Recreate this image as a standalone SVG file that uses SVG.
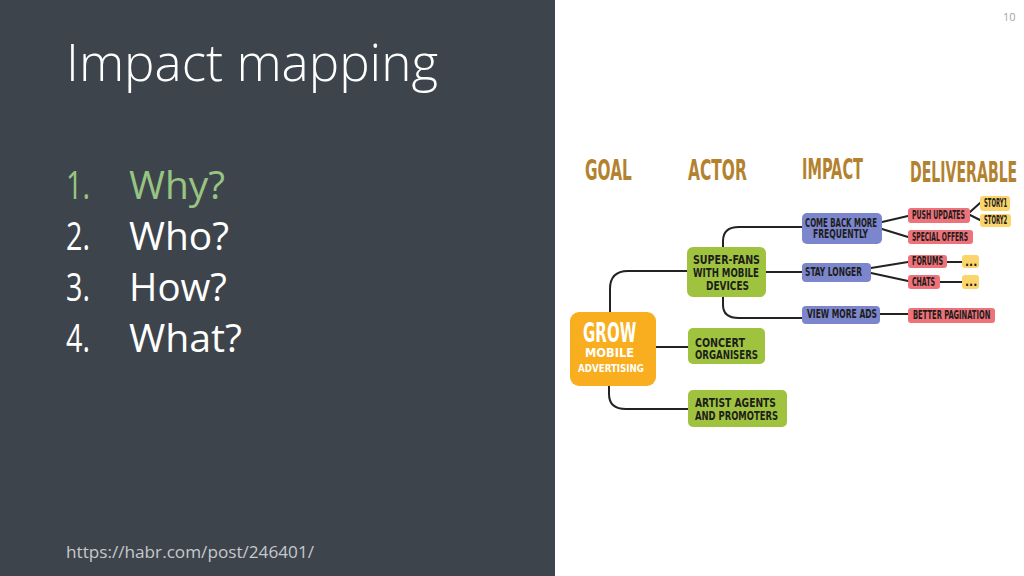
<svg xmlns="http://www.w3.org/2000/svg" width="1024" height="576" viewBox="0 0 1024 576">
<style>
.title{font-family:"Open Sans","Liberation Sans",sans-serif;font-weight:300;fill:#ffffff}
.li{font-family:"Open Sans","Liberation Sans",sans-serif;font-size:38px;fill:#ffffff}
.hd{font-family:"DejaVu Sans Condensed","Liberation Sans",sans-serif;font-weight:bold;font-size:29px;fill:#b3822f}
.lb{font-family:"DejaVu Sans Condensed","Liberation Sans",sans-serif;font-weight:bold;font-size:12px;fill:#1d1d1b}
.lbw{font-family:"DejaVu Sans Condensed","Liberation Sans",sans-serif;font-weight:bold;fill:#ffffff}
.goal{fill:#f8ae1e}
.actor{fill:#9fc33f}
.impact{fill:#7c86cc}
.deliv{fill:#ee727a}
.story{fill:#fbd46c}
.conn{fill:none;stroke:#222222;stroke-width:2;stroke-linecap:round;stroke-linejoin:round}
</style>
<rect x="0" y="0" width="1024" height="576" fill="#ffffff"/>
<rect x="0" y="0" width="555" height="576" fill="#3e444c"/>
<text class="title" x="66" y="81" font-size="52" textLength="372" lengthAdjust="spacingAndGlyphs">Impact mapping</text>
<g id="list">
<text class="li" x="66" y="199" style="fill:#98c482" textLength="24" lengthAdjust="spacingAndGlyphs">1.</text>
<text class="li" x="129" y="199" style="fill:#98c482" textLength="96" lengthAdjust="spacingAndGlyphs">Why?</text>
<text class="li" x="66" y="250" textLength="24" lengthAdjust="spacingAndGlyphs">2.</text>
<text class="li" x="129" y="250" textLength="100" lengthAdjust="spacingAndGlyphs">Who?</text>
<text class="li" x="66" y="301" textLength="24" lengthAdjust="spacingAndGlyphs">3.</text>
<text class="li" x="129" y="301" textLength="98" lengthAdjust="spacingAndGlyphs">How?</text>
<text class="li" x="66" y="352" textLength="24" lengthAdjust="spacingAndGlyphs">4.</text>
<text class="li" x="129" y="352" textLength="113" lengthAdjust="spacingAndGlyphs">What?</text>
</g>
<text x="66" y="558" font-family="Open Sans, Liberation Sans, sans-serif" font-size="17" fill="#c6c9cd" textLength="248" lengthAdjust="spacingAndGlyphs">https://habr.com/post/246401/</text>
<text x="1003" y="21" font-family="Open Sans, Liberation Sans, sans-serif" font-size="11" fill="#a5a5a5">10</text>

<g id="headers">
<text class="hd" transform="translate(585,180) scale(0.55,1)" x="0" y="0" textLength="85" lengthAdjust="spacingAndGlyphs">GOAL</text>
<text class="hd" transform="translate(688,180) scale(0.55,1)" x="0" y="0" textLength="107" lengthAdjust="spacingAndGlyphs">ACTOR</text>
<text class="hd" transform="translate(802,179) scale(0.55,1)" x="0" y="0" textLength="111" lengthAdjust="spacingAndGlyphs">IMPACT</text>
<text class="hd" transform="translate(910,182) scale(0.55,1)" x="0" y="0" textLength="195" lengthAdjust="spacingAndGlyphs">DELIVERABLE</text>
</g>

<g id="connectors">
<path class="conn" d="M610,312 V289 Q610,271 628,271 H687"/>
<path class="conn" d="M656,347 H688"/>
<path class="conn" d="M609,386 V394 Q609,409 626,409 H688"/>
<path class="conn" d="M723,247 V241 Q723,227 739,227 H802"/>
<path class="conn" d="M766,272 H802"/>
<path class="conn" d="M723,297 V305 Q723,318 739,318 H802"/>
<path class="conn" d="M882,222 L908,216"/>
<path class="conn" d="M882,229 L908,237"/>
<path class="conn" d="M871,268 L908,262"/>
<path class="conn" d="M871,273 L908,281"/>
<path class="conn" d="M947,262 H962"/>
<path class="conn" d="M940,282 H962"/>
<path class="conn" d="M970,212 L980,203"/>
<path class="conn" d="M970,215 L980,220"/>
<path class="conn" d="M880,314 H908"/>
</g>

<g id="goal">
<rect class="goal" x="570" y="312" width="86" height="74" rx="9"/>
<text class="lbw" transform="translate(583,342) scale(0.75,1.2)" x="0" y="0" font-size="22" textLength="71" lengthAdjust="spacingAndGlyphs">GROW</text>
<text class="lbw" x="585" y="357" font-size="12" textLength="49" lengthAdjust="spacingAndGlyphs">MOBILE</text>
<text class="lbw" x="578" y="372" font-size="11" textLength="66" lengthAdjust="spacingAndGlyphs">ADVERTISING</text>
</g>

<g id="superfans">
<rect class="actor" x="687" y="247" width="79" height="50" rx="6"/>
<text class="lb" x="693" y="264" textLength="67" lengthAdjust="spacingAndGlyphs">SUPER-FANS</text>
<text class="lb" x="693" y="277" textLength="66" lengthAdjust="spacingAndGlyphs">WITH MOBILE</text>
<text class="lb" x="706" y="290" textLength="43" lengthAdjust="spacingAndGlyphs">DEVICES</text>
</g>
<g id="concert">
<rect class="actor" x="688" y="328" width="77" height="36" rx="5"/>
<text class="lb" x="695" y="347" textLength="50" lengthAdjust="spacingAndGlyphs">CONCERT</text>
<text class="lb" x="695" y="359" textLength="63" lengthAdjust="spacingAndGlyphs">ORGANISERS</text>
</g>
<g id="artist">
<rect class="actor" x="688" y="390" width="99" height="37" rx="5"/>
<text class="lb" x="695" y="407" textLength="81" lengthAdjust="spacingAndGlyphs">ARTIST AGENTS</text>
<text class="lb" x="695" y="420" textLength="83" lengthAdjust="spacingAndGlyphs">AND PROMOTERS</text>
</g>

<g id="comeback">
<rect class="impact" x="802" y="213" width="80" height="31" rx="5"/>
<text class="lb" x="805" y="226.5" font-size="8.3" textLength="72" lengthAdjust="spacingAndGlyphs">COME BACK MORE</text>
<text class="lb" x="813" y="238" font-size="8.3" textLength="55" lengthAdjust="spacingAndGlyphs">FREQUENTLY</text>
</g>
<g id="staylonger">
<rect class="impact" x="802" y="263" width="69" height="19" rx="4"/>
<text class="lb" x="805" y="276" font-size="10" textLength="57" lengthAdjust="spacingAndGlyphs">STAY LONGER</text>
</g>
<g id="viewmore">
<rect class="impact" x="802" y="306" width="78" height="18" rx="4"/>
<text class="lb" x="807" y="318" font-size="10" textLength="70" lengthAdjust="spacingAndGlyphs">VIEW MORE ADS</text>
</g>

<g id="push">
<rect class="deliv" x="908" y="208" width="62" height="15" rx="3"/>
<text class="lb" x="912" y="219" font-size="9" textLength="53" lengthAdjust="spacingAndGlyphs">PUSH UPDATES</text>
</g>
<g id="special">
<rect class="deliv" x="908" y="230" width="65" height="14" rx="3"/>
<text class="lb" x="912" y="241" font-size="9" textLength="56" lengthAdjust="spacingAndGlyphs">SPECIAL OFFERS</text>
</g>
<g id="forums">
<rect class="deliv" x="908" y="255" width="39" height="13" rx="3"/>
<text class="lb" x="912" y="265" font-size="9" textLength="31" lengthAdjust="spacingAndGlyphs">FORUMS</text>
</g>
<g id="chats">
<rect class="deliv" x="908" y="275" width="32" height="14" rx="3"/>
<text class="lb" x="912" y="286" font-size="9" textLength="23" lengthAdjust="spacingAndGlyphs">CHATS</text>
</g>
<g id="pagination">
<rect class="deliv" x="908" y="308" width="87" height="15" rx="3"/>
<text class="lb" transform="translate(913,319) scale(0.75,1)" x="0" y="0" font-size="9" textLength="103" lengthAdjust="spacingAndGlyphs">BETTER PAGINATION</text>
</g>

<g id="story1">
<rect class="story" x="980" y="196" width="30" height="15" rx="3"/>
<text class="lb" transform="translate(984,206.5) scale(0.8,1)" x="0" y="0" font-size="7.2" textLength="29" lengthAdjust="spacingAndGlyphs">STORY1</text>
</g>
<g id="story2">
<rect class="story" x="980" y="214" width="31" height="13" rx="3"/>
<text class="lb" transform="translate(984,224) scale(0.8,1)" x="0" y="0" font-size="7.2" textLength="29" lengthAdjust="spacingAndGlyphs">STORY2</text>
</g>
<g id="dots1">
<rect class="story" x="962" y="255" width="17" height="13" rx="3"/>
<text class="lb" x="965" y="266" font-size="9">...</text>
</g>
<g id="dots2">
<rect class="story" x="962" y="275" width="17" height="14" rx="3"/>
<text class="lb" x="965" y="286" font-size="9">...</text>
</g>
</svg>
